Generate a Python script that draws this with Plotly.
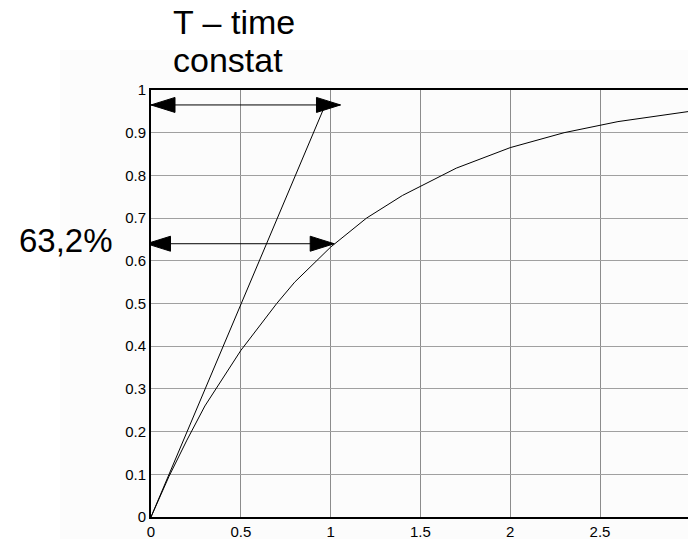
import plotly.graph_objects as go

# ---- data ----
curve_t = [0, 0.1, 0.2, 0.3, 0.5, 0.7, 0.8, 1.0, 1.2, 1.4, 1.7, 2.0, 2.3, 2.6, 3.0]
curve_y = [0, 0.095, 0.18, 0.26, 0.39, 0.50, 0.55, 0.632, 0.70, 0.753, 0.817, 0.865, 0.90, 0.926, 0.95]

tangent_t = [0, 0.97]
tangent_y = [0, 0.965]

# horizontal double arrows: (y level, x start, x end)
arrow_y = [0.965, 0.64]
arrow_x0 = [0.0, -0.025]
arrow_x1 = [1.055, 1.02]

x_ticks = [0, 0.5, 1, 1.5, 2, 2.5]
x_ticklabels = ["0", "0.5", "1", "1.5", "2", "2.5"]
y_ticks = [0, 0.1, 0.2, 0.3, 0.4, 0.5, 0.6, 0.7, 0.8, 0.9, 1]
y_ticklabels = ["0", "0.1", "0.2", "0.3", "0.4", "0.5", "0.6", "0.7", "0.8", "0.9", "1"]

title_lines = ["T – time", "constat"]
pct_label = "63,2%"

# ---- layout geometry ----
W, H = 688, 539
L, R, T, B = 151, 0, 90, 22
PW, PH = W - L - R, H - T - B
XMAX = 2.99

def px_x(p):
    return (p - L) / PW

def px_y(p):
    return (H - B - p) / PH

FONT = "Liberation Sans, Arial, sans-serif"

fig = go.Figure()

fig.add_trace(go.Scatter(x=curve_t, y=curve_y, mode="lines",
                         line=dict(color="black", width=1), cliponaxis=False,
                         showlegend=False, hoverinfo="skip"))
fig.add_trace(go.Scatter(x=tangent_t, y=tangent_y, mode="lines",
                         line=dict(color="black", width=1), cliponaxis=False,
                         showlegend=False, hoverinfo="skip"))

# arrows: shaft lines + filled heads
head_len = 24 / PW * XMAX     # data units
head_half = 7.5 / PH          # data units
for yv, x0, x1 in zip(arrow_y, arrow_x0, arrow_x1):
    fig.add_trace(go.Scatter(x=[x0, x1], y=[yv, yv], mode="lines",
                             line=dict(color="black", width=1), cliponaxis=False,
                             showlegend=False, hoverinfo="skip"))
    # left head
    fig.add_trace(go.Scatter(x=[x0, x0 + head_len, x0 + head_len, x0],
                             y=[yv, yv + head_half, yv - head_half, yv],
                             mode="lines", fill="toself", fillcolor="black",
                             line=dict(color="black", width=1), cliponaxis=False,
                             showlegend=False, hoverinfo="skip"))
    # right head
    fig.add_trace(go.Scatter(x=[x1, x1 - head_len, x1 - head_len, x1],
                             y=[yv, yv + head_half, yv - head_half, yv],
                             mode="lines", fill="toself", fillcolor="black",
                             line=dict(color="black", width=1), cliponaxis=False,
                             showlegend=False, hoverinfo="skip"))

fig.update_layout(
    width=W, height=H,
    margin=dict(l=L, r=R, t=T, b=B, pad=0),
    paper_bgcolor="white", plot_bgcolor="white",
    font=dict(family=FONT, color="black", size=15),
    showlegend=False,
    xaxis=dict(range=[0, XMAX], tickvals=x_ticks, ticktext=x_ticklabels,
               showgrid=True, gridcolor="#8c8c8c", gridwidth=1,
               zeroline=False, showline=True, linecolor="black", linewidth=2,
               mirror=True, ticks="", fixedrange=True,
               tickfont=dict(family=FONT, size=15, color="black")),
    yaxis=dict(range=[0, 1], tickvals=y_ticks, ticktext=y_ticklabels,
               showgrid=True, gridcolor="#a0a0a0", gridwidth=1,
               zeroline=False, showline=True, linecolor="black", linewidth=2,
               mirror=False, ticks="", fixedrange=True,
               tickfont=dict(family=FONT, size=15, color="black")),
    shapes=[dict(type="rect", xref="paper", yref="paper", layer="below",
                 x0=px_x(60), x1=px_x(W + 5), y0=px_y(H + 5), y1=px_y(50),
                 fillcolor="#fcfcfc", line=dict(width=0))],
    annotations=[
        dict(text=title_lines[0], xref="paper", yref="paper",
             x=px_x(171), y=px_y(22), xanchor="left", yanchor="middle",
             showarrow=False, font=dict(family=FONT, size=34, color="black")),
        dict(text=title_lines[1], xref="paper", yref="paper",
             x=px_x(171), y=px_y(60), xanchor="left", yanchor="middle",
             showarrow=False, font=dict(family=FONT, size=34, color="black")),
        dict(text=pct_label, xref="paper", yref="paper",
             x=px_x(17), y=px_y(240.5), xanchor="left", yanchor="middle",
             showarrow=False, font=dict(family=FONT, size=33, color="black")),
    ],
)

fig.write_html("out.html", config={"displayModeBar": False},
               post_script="document.body.style.margin='0';document.body.style.overflow='hidden';")
